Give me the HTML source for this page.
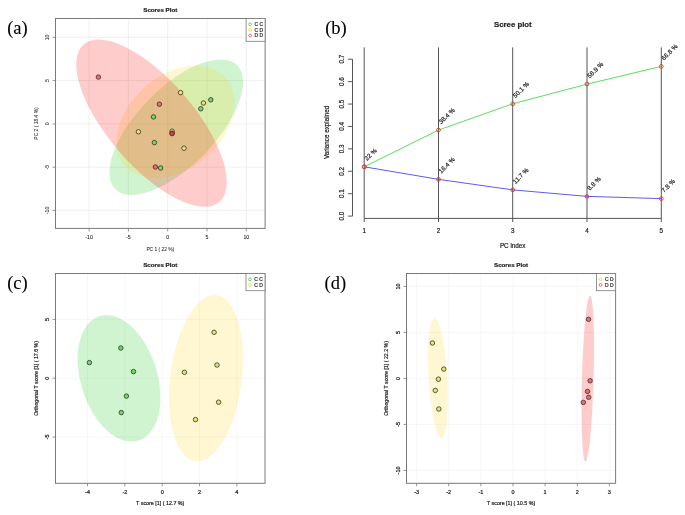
<!DOCTYPE html><html><head><meta charset="utf-8"><style>html,body{margin:0;padding:0;background:#fff;}svg{display:block;will-change:transform;}</style></head><body>
<svg width="685" height="515" viewBox="0 0 685 515">
<rect x="0" y="0" width="685" height="515" fill="#fff"/>
<line x1="89.1" y1="18.5" x2="89.1" y2="228.4" stroke="#e6e6e6" stroke-width="0.6"/>
<line x1="128.4" y1="18.5" x2="128.4" y2="228.4" stroke="#e6e6e6" stroke-width="0.6"/>
<line x1="167.7" y1="18.5" x2="167.7" y2="228.4" stroke="#e6e6e6" stroke-width="0.6"/>
<line x1="207" y1="18.5" x2="207" y2="228.4" stroke="#e6e6e6" stroke-width="0.6"/>
<line x1="246.3" y1="18.5" x2="246.3" y2="228.4" stroke="#e6e6e6" stroke-width="0.6"/>
<line x1="55.5" y1="37.4" x2="265.1" y2="37.4" stroke="#e6e6e6" stroke-width="0.6"/>
<line x1="55.5" y1="80.65" x2="265.1" y2="80.65" stroke="#e6e6e6" stroke-width="0.6"/>
<line x1="55.5" y1="123.9" x2="265.1" y2="123.9" stroke="#e6e6e6" stroke-width="0.6"/>
<line x1="55.5" y1="167.15" x2="265.1" y2="167.15" stroke="#e6e6e6" stroke-width="0.6"/>
<line x1="55.5" y1="210.4" x2="265.1" y2="210.4" stroke="#e6e6e6" stroke-width="0.6"/>
<ellipse cx="176.2" cy="127.2" rx="86.88" ry="38.88" transform="rotate(-45.64 176.2 127.2)" fill="#14c814" fill-opacity="0.2"/>
<ellipse cx="175.5" cy="121.95" rx="66.8" ry="46.5" transform="rotate(-41.17 175.5 121.95)" fill="#ffd21e" fill-opacity="0.2"/>
<ellipse cx="151.5" cy="123.2" rx="104" ry="43" transform="rotate(49.26 151.5 123.2)" fill="#ff0000" fill-opacity="0.2"/>
<circle cx="98.4" cy="77.1" r="2.25" fill="#f06a6a" stroke="#333" stroke-width="0.8"/>
<circle cx="159.4" cy="104.2" r="2.25" fill="#f06a6a" stroke="#333" stroke-width="0.8"/>
<circle cx="155.4" cy="167" r="2.25" fill="#f06a6a" stroke="#333" stroke-width="0.8"/>
<circle cx="180.6" cy="92.6" r="2.25" fill="#f0e070" stroke="#333" stroke-width="0.8"/>
<circle cx="203.4" cy="103" r="2.25" fill="#f0e070" stroke="#333" stroke-width="0.8"/>
<circle cx="138.4" cy="131.8" r="2.25" fill="#f0e070" stroke="#333" stroke-width="0.8"/>
<circle cx="184" cy="148.2" r="2.25" fill="#f0e070" stroke="#333" stroke-width="0.8"/>
<circle cx="210.8" cy="99.8" r="2.25" fill="#70da5e" stroke="#333" stroke-width="0.8"/>
<circle cx="200.8" cy="108.8" r="2.25" fill="#70da5e" stroke="#333" stroke-width="0.8"/>
<circle cx="153.5" cy="116.9" r="2.25" fill="#70da5e" stroke="#333" stroke-width="0.8"/>
<circle cx="154.4" cy="142.6" r="2.25" fill="#70da5e" stroke="#333" stroke-width="0.8"/>
<circle cx="160.6" cy="168" r="2.25" fill="#70da5e" stroke="#333" stroke-width="0.8"/>
<circle cx="172.1" cy="131.2" r="2.25" fill="#f0e070" stroke="#333" stroke-width="0.8"/>
<circle cx="172.1" cy="133.2" r="2.25" fill="#f06a6a" stroke="#333" stroke-width="0.8"/>
<circle cx="172.1" cy="133.6" r="2.25" fill="#e83a2a" stroke="#333" stroke-width="0.8"/>
<rect x="55.5" y="18.5" width="209.6" height="209.9" fill="none" stroke="#7a7a7a" stroke-width="1"/>
<line x1="89.1" y1="228.4" x2="89.1" y2="231.4" stroke="#7a7a7a" stroke-width="0.8"/>
<text x="89.1" y="239.2" font-size="5.2" text-anchor="middle" font-weight="normal" fill="#111" font-family='"Liberation Sans", sans-serif' stroke="#333" stroke-width="0.06">-10</text>
<line x1="128.4" y1="228.4" x2="128.4" y2="231.4" stroke="#7a7a7a" stroke-width="0.8"/>
<text x="128.4" y="239.2" font-size="5.2" text-anchor="middle" font-weight="normal" fill="#111" font-family='"Liberation Sans", sans-serif' stroke="#333" stroke-width="0.06">-5</text>
<line x1="167.7" y1="228.4" x2="167.7" y2="231.4" stroke="#7a7a7a" stroke-width="0.8"/>
<text x="167.7" y="239.2" font-size="5.2" text-anchor="middle" font-weight="normal" fill="#111" font-family='"Liberation Sans", sans-serif' stroke="#333" stroke-width="0.06">0</text>
<line x1="207" y1="228.4" x2="207" y2="231.4" stroke="#7a7a7a" stroke-width="0.8"/>
<text x="207" y="239.2" font-size="5.2" text-anchor="middle" font-weight="normal" fill="#111" font-family='"Liberation Sans", sans-serif' stroke="#333" stroke-width="0.06">5</text>
<line x1="246.3" y1="228.4" x2="246.3" y2="231.4" stroke="#7a7a7a" stroke-width="0.8"/>
<text x="246.3" y="239.2" font-size="5.2" text-anchor="middle" font-weight="normal" fill="#111" font-family='"Liberation Sans", sans-serif' stroke="#333" stroke-width="0.06">10</text>
<line x1="52.5" y1="37.4" x2="55.5" y2="37.4" stroke="#7a7a7a" stroke-width="0.8"/>
<text x="49.2" y="37.4" font-size="5.2" text-anchor="middle" font-weight="normal" fill="#111" font-family='"Liberation Sans", sans-serif' transform="rotate(-90 49.2 37.4)" stroke="#333" stroke-width="0.06">10</text>
<line x1="52.5" y1="80.65" x2="55.5" y2="80.65" stroke="#7a7a7a" stroke-width="0.8"/>
<text x="49.2" y="80.65" font-size="5.2" text-anchor="middle" font-weight="normal" fill="#111" font-family='"Liberation Sans", sans-serif' transform="rotate(-90 49.2 80.65)" stroke="#333" stroke-width="0.06">5</text>
<line x1="52.5" y1="123.9" x2="55.5" y2="123.9" stroke="#7a7a7a" stroke-width="0.8"/>
<text x="49.2" y="123.9" font-size="5.2" text-anchor="middle" font-weight="normal" fill="#111" font-family='"Liberation Sans", sans-serif' transform="rotate(-90 49.2 123.9)" stroke="#333" stroke-width="0.06">0</text>
<line x1="52.5" y1="167.15" x2="55.5" y2="167.15" stroke="#7a7a7a" stroke-width="0.8"/>
<text x="49.2" y="167.15" font-size="5.2" text-anchor="middle" font-weight="normal" fill="#111" font-family='"Liberation Sans", sans-serif' transform="rotate(-90 49.2 167.15)" stroke="#333" stroke-width="0.06">-5</text>
<line x1="52.5" y1="210.4" x2="55.5" y2="210.4" stroke="#7a7a7a" stroke-width="0.8"/>
<text x="49.2" y="210.4" font-size="5.2" text-anchor="middle" font-weight="normal" fill="#111" font-family='"Liberation Sans", sans-serif' transform="rotate(-90 49.2 210.4)" stroke="#333" stroke-width="0.06">-10</text>
<text x="160.3" y="12" font-size="6.2" text-anchor="middle" font-weight="bold" fill="#222" font-family='"Liberation Sans", sans-serif' stroke="#222" stroke-width="0.2">Scores Plot</text>
<text x="160.3" y="251" font-size="4.86" text-anchor="middle" font-weight="normal" fill="#222" font-family='"Liberation Sans", sans-serif' stroke="#333" stroke-width="0.05">PC 1 ( 22 %)</text>
<text x="38.2" y="123.45" font-size="4.95" text-anchor="middle" font-weight="normal" fill="#222" font-family='"Liberation Sans", sans-serif' transform="rotate(-90 38.2 123.45)" stroke="#333" stroke-width="0.05">PC 2 ( 18.4 %)</text>
<rect x="246.1" y="18.5" width="19" height="22.8" fill="#fff" stroke="#7a7a7a" stroke-width="0.8"/>
<circle cx="250.1" cy="24.3" r="1.4" fill="none" stroke="#44cc44" stroke-width="0.8"/>
<text x="254.4" y="26.1" font-size="5" text-anchor="start" font-weight="normal" fill="#333" font-family='"Liberation Sans", sans-serif' stroke="#222" stroke-width="0.2">C C</text>
<circle cx="250.1" cy="29.9" r="1.4" fill="none" stroke="#eedd22" stroke-width="0.8"/>
<text x="254.4" y="31.7" font-size="5" text-anchor="start" font-weight="normal" fill="#333" font-family='"Liberation Sans", sans-serif' stroke="#222" stroke-width="0.2">C D</text>
<circle cx="250.1" cy="35.5" r="1.4" fill="none" stroke="#ee4455" stroke-width="0.8"/>
<text x="254.4" y="37.3" font-size="5" text-anchor="start" font-weight="normal" fill="#333" font-family='"Liberation Sans", sans-serif' stroke="#222" stroke-width="0.2">D D</text>
<line x1="87.5" y1="273.5" x2="87.5" y2="483.3" stroke="#e6e6e6" stroke-width="0.6" stroke-dasharray="1 1"/>
<line x1="124.85" y1="273.5" x2="124.85" y2="483.3" stroke="#e6e6e6" stroke-width="0.6" stroke-dasharray="1 1"/>
<line x1="162.2" y1="273.5" x2="162.2" y2="483.3" stroke="#e6e6e6" stroke-width="0.6" stroke-dasharray="1 1"/>
<line x1="199.55" y1="273.5" x2="199.55" y2="483.3" stroke="#e6e6e6" stroke-width="0.6" stroke-dasharray="1 1"/>
<line x1="236.9" y1="273.5" x2="236.9" y2="483.3" stroke="#e6e6e6" stroke-width="0.6" stroke-dasharray="1 1"/>
<line x1="55.5" y1="319.4" x2="265" y2="319.4" stroke="#e6e6e6" stroke-width="0.6" stroke-dasharray="1 1"/>
<line x1="55.5" y1="378.2" x2="265" y2="378.2" stroke="#e6e6e6" stroke-width="0.6" stroke-dasharray="1 1"/>
<line x1="55.5" y1="437" x2="265" y2="437" stroke="#e6e6e6" stroke-width="0.6" stroke-dasharray="1 1"/>
<ellipse cx="119.05" cy="378.3" rx="65.22" ry="38.36" transform="rotate(72.67 119.05 378.3)" fill="#14c814" fill-opacity="0.2"/>
<ellipse cx="206" cy="378.2" rx="83.73" ry="35.78" transform="rotate(-82.86 206 378.2)" fill="#ffd21e" fill-opacity="0.2"/>
<circle cx="89.4" cy="362.6" r="2.25" fill="#70da5e" stroke="#333" stroke-width="0.8"/>
<circle cx="120.8" cy="348" r="2.25" fill="#70da5e" stroke="#333" stroke-width="0.8"/>
<circle cx="133.5" cy="371.6" r="2.25" fill="#70da5e" stroke="#333" stroke-width="0.8"/>
<circle cx="126.4" cy="396.1" r="2.25" fill="#70da5e" stroke="#333" stroke-width="0.8"/>
<circle cx="121.3" cy="412.6" r="2.25" fill="#70da5e" stroke="#333" stroke-width="0.8"/>
<circle cx="214.1" cy="332.3" r="2.25" fill="#f0e070" stroke="#333" stroke-width="0.8"/>
<circle cx="184.4" cy="372.3" r="2.25" fill="#f0e070" stroke="#333" stroke-width="0.8"/>
<circle cx="217" cy="365" r="2.25" fill="#f0e070" stroke="#333" stroke-width="0.8"/>
<circle cx="218.6" cy="402.2" r="2.25" fill="#f0e070" stroke="#333" stroke-width="0.8"/>
<circle cx="195.5" cy="419.6" r="2.25" fill="#f0e070" stroke="#333" stroke-width="0.8"/>
<rect x="55.5" y="273.5" width="209.5" height="209.8" fill="none" stroke="#7a7a7a" stroke-width="1"/>
<line x1="87.5" y1="483.3" x2="87.5" y2="486.3" stroke="#7a7a7a" stroke-width="0.8"/>
<text x="87.5" y="494.1" font-size="5.5" text-anchor="middle" font-weight="normal" fill="#111" font-family='"Liberation Sans", sans-serif' stroke="#222" stroke-width="0.22">-4</text>
<line x1="124.85" y1="483.3" x2="124.85" y2="486.3" stroke="#7a7a7a" stroke-width="0.8"/>
<text x="124.85" y="494.1" font-size="5.5" text-anchor="middle" font-weight="normal" fill="#111" font-family='"Liberation Sans", sans-serif' stroke="#222" stroke-width="0.22">-2</text>
<line x1="162.2" y1="483.3" x2="162.2" y2="486.3" stroke="#7a7a7a" stroke-width="0.8"/>
<text x="162.2" y="494.1" font-size="5.5" text-anchor="middle" font-weight="normal" fill="#111" font-family='"Liberation Sans", sans-serif' stroke="#222" stroke-width="0.22">0</text>
<line x1="199.55" y1="483.3" x2="199.55" y2="486.3" stroke="#7a7a7a" stroke-width="0.8"/>
<text x="199.55" y="494.1" font-size="5.5" text-anchor="middle" font-weight="normal" fill="#111" font-family='"Liberation Sans", sans-serif' stroke="#222" stroke-width="0.22">2</text>
<line x1="236.9" y1="483.3" x2="236.9" y2="486.3" stroke="#7a7a7a" stroke-width="0.8"/>
<text x="236.9" y="494.1" font-size="5.5" text-anchor="middle" font-weight="normal" fill="#111" font-family='"Liberation Sans", sans-serif' stroke="#222" stroke-width="0.22">4</text>
<line x1="52.5" y1="319.4" x2="55.5" y2="319.4" stroke="#7a7a7a" stroke-width="0.8"/>
<text x="49.2" y="319.4" font-size="5.5" text-anchor="middle" font-weight="normal" fill="#111" font-family='"Liberation Sans", sans-serif' transform="rotate(-90 49.2 319.4)" stroke="#222" stroke-width="0.22">5</text>
<line x1="52.5" y1="378.2" x2="55.5" y2="378.2" stroke="#7a7a7a" stroke-width="0.8"/>
<text x="49.2" y="378.2" font-size="5.5" text-anchor="middle" font-weight="normal" fill="#111" font-family='"Liberation Sans", sans-serif' transform="rotate(-90 49.2 378.2)" stroke="#222" stroke-width="0.22">0</text>
<line x1="52.5" y1="437" x2="55.5" y2="437" stroke="#7a7a7a" stroke-width="0.8"/>
<text x="49.2" y="437" font-size="5.5" text-anchor="middle" font-weight="normal" fill="#111" font-family='"Liberation Sans", sans-serif' transform="rotate(-90 49.2 437)" stroke="#222" stroke-width="0.22">-5</text>
<text x="160.25" y="267" font-size="6.2" text-anchor="middle" font-weight="bold" fill="#222" font-family='"Liberation Sans", sans-serif' stroke="#222" stroke-width="0.2">Scores Plot</text>
<text x="160.25" y="505.1" font-size="5.35" text-anchor="middle" font-weight="normal" fill="#222" font-family='"Liberation Sans", sans-serif' stroke="#222" stroke-width="0.2">T score [1] ( 12.7 %)</text>
<text x="38.3" y="378.4" font-size="5.25" text-anchor="middle" font-weight="normal" fill="#222" font-family='"Liberation Sans", sans-serif' transform="rotate(-90 38.3 378.4)" stroke="#222" stroke-width="0.2">Orthogonal T score [1] ( 17.6 %)</text>
<rect x="246" y="273.5" width="19" height="17.2" fill="#fff" stroke="#7a7a7a" stroke-width="0.8"/>
<circle cx="250" cy="279.3" r="1.4" fill="none" stroke="#44cc44" stroke-width="0.8"/>
<text x="254.3" y="281.1" font-size="5" text-anchor="start" font-weight="normal" fill="#333" font-family='"Liberation Sans", sans-serif' stroke="#222" stroke-width="0.2">C C</text>
<circle cx="250" cy="284.9" r="1.4" fill="none" stroke="#eedd22" stroke-width="0.8"/>
<text x="254.3" y="286.7" font-size="5" text-anchor="start" font-weight="normal" fill="#333" font-family='"Liberation Sans", sans-serif' stroke="#222" stroke-width="0.2">C D</text>
<line x1="416.61" y1="273.5" x2="416.61" y2="483.3" stroke="#e6e6e6" stroke-width="0.6" stroke-dasharray="1 1"/>
<line x1="448.74" y1="273.5" x2="448.74" y2="483.3" stroke="#e6e6e6" stroke-width="0.6" stroke-dasharray="1 1"/>
<line x1="480.87" y1="273.5" x2="480.87" y2="483.3" stroke="#e6e6e6" stroke-width="0.6" stroke-dasharray="1 1"/>
<line x1="513" y1="273.5" x2="513" y2="483.3" stroke="#e6e6e6" stroke-width="0.6" stroke-dasharray="1 1"/>
<line x1="545.13" y1="273.5" x2="545.13" y2="483.3" stroke="#e6e6e6" stroke-width="0.6" stroke-dasharray="1 1"/>
<line x1="577.26" y1="273.5" x2="577.26" y2="483.3" stroke="#e6e6e6" stroke-width="0.6" stroke-dasharray="1 1"/>
<line x1="609.39" y1="273.5" x2="609.39" y2="483.3" stroke="#e6e6e6" stroke-width="0.6" stroke-dasharray="1 1"/>
<line x1="406.5" y1="286.4" x2="615.6" y2="286.4" stroke="#e6e6e6" stroke-width="0.6" stroke-dasharray="1 1"/>
<line x1="406.5" y1="332.4" x2="615.6" y2="332.4" stroke="#e6e6e6" stroke-width="0.6" stroke-dasharray="1 1"/>
<line x1="406.5" y1="378.4" x2="615.6" y2="378.4" stroke="#e6e6e6" stroke-width="0.6" stroke-dasharray="1 1"/>
<line x1="406.5" y1="424.4" x2="615.6" y2="424.4" stroke="#e6e6e6" stroke-width="0.6" stroke-dasharray="1 1"/>
<line x1="406.5" y1="470.4" x2="615.6" y2="470.4" stroke="#e6e6e6" stroke-width="0.6" stroke-dasharray="1 1"/>
<ellipse cx="437.9" cy="378.2" rx="59.8" ry="9.3" transform="rotate(86.71 437.9 378.2)" fill="#ffd21e" fill-opacity="0.2"/>
<ellipse cx="587.75" cy="378.5" rx="83.13" ry="5.81" transform="rotate(-88.41 587.75 378.5)" fill="#ff0000" fill-opacity="0.2"/>
<circle cx="432.4" cy="343" r="2.25" fill="#f0e070" stroke="#333" stroke-width="0.8"/>
<circle cx="443.8" cy="369.1" r="2.25" fill="#f0e070" stroke="#333" stroke-width="0.8"/>
<circle cx="438.4" cy="379.2" r="2.25" fill="#f0e070" stroke="#333" stroke-width="0.8"/>
<circle cx="435.3" cy="390.4" r="2.25" fill="#f0e070" stroke="#333" stroke-width="0.8"/>
<circle cx="438.8" cy="409" r="2.25" fill="#f0e070" stroke="#333" stroke-width="0.8"/>
<circle cx="588.5" cy="319.3" r="2.25" fill="#f06a6a" stroke="#333" stroke-width="0.8"/>
<circle cx="590.1" cy="380.8" r="2.25" fill="#f06a6a" stroke="#333" stroke-width="0.8"/>
<circle cx="587.5" cy="391.4" r="2.25" fill="#f06a6a" stroke="#333" stroke-width="0.8"/>
<circle cx="588.7" cy="397.3" r="2.25" fill="#f06a6a" stroke="#333" stroke-width="0.8"/>
<circle cx="583.3" cy="402.4" r="2.25" fill="#f06a6a" stroke="#333" stroke-width="0.8"/>
<rect x="406.5" y="273.5" width="209.1" height="209.8" fill="none" stroke="#7a7a7a" stroke-width="1"/>
<line x1="416.61" y1="483.3" x2="416.61" y2="486.3" stroke="#7a7a7a" stroke-width="0.8"/>
<text x="416.61" y="494.1" font-size="5.5" text-anchor="middle" font-weight="normal" fill="#111" font-family='"Liberation Sans", sans-serif' stroke="#222" stroke-width="0.22">-3</text>
<line x1="448.74" y1="483.3" x2="448.74" y2="486.3" stroke="#7a7a7a" stroke-width="0.8"/>
<text x="448.74" y="494.1" font-size="5.5" text-anchor="middle" font-weight="normal" fill="#111" font-family='"Liberation Sans", sans-serif' stroke="#222" stroke-width="0.22">-2</text>
<line x1="480.87" y1="483.3" x2="480.87" y2="486.3" stroke="#7a7a7a" stroke-width="0.8"/>
<text x="480.87" y="494.1" font-size="5.5" text-anchor="middle" font-weight="normal" fill="#111" font-family='"Liberation Sans", sans-serif' stroke="#222" stroke-width="0.22">-1</text>
<line x1="513" y1="483.3" x2="513" y2="486.3" stroke="#7a7a7a" stroke-width="0.8"/>
<text x="513" y="494.1" font-size="5.5" text-anchor="middle" font-weight="normal" fill="#111" font-family='"Liberation Sans", sans-serif' stroke="#222" stroke-width="0.22">0</text>
<line x1="545.13" y1="483.3" x2="545.13" y2="486.3" stroke="#7a7a7a" stroke-width="0.8"/>
<text x="545.13" y="494.1" font-size="5.5" text-anchor="middle" font-weight="normal" fill="#111" font-family='"Liberation Sans", sans-serif' stroke="#222" stroke-width="0.22">1</text>
<line x1="577.26" y1="483.3" x2="577.26" y2="486.3" stroke="#7a7a7a" stroke-width="0.8"/>
<text x="577.26" y="494.1" font-size="5.5" text-anchor="middle" font-weight="normal" fill="#111" font-family='"Liberation Sans", sans-serif' stroke="#222" stroke-width="0.22">2</text>
<line x1="609.39" y1="483.3" x2="609.39" y2="486.3" stroke="#7a7a7a" stroke-width="0.8"/>
<text x="609.39" y="494.1" font-size="5.5" text-anchor="middle" font-weight="normal" fill="#111" font-family='"Liberation Sans", sans-serif' stroke="#222" stroke-width="0.22">3</text>
<line x1="403.5" y1="286.4" x2="406.5" y2="286.4" stroke="#7a7a7a" stroke-width="0.8"/>
<text x="400.2" y="286.4" font-size="5.5" text-anchor="middle" font-weight="normal" fill="#111" font-family='"Liberation Sans", sans-serif' transform="rotate(-90 400.2 286.4)" stroke="#222" stroke-width="0.22">10</text>
<line x1="403.5" y1="332.4" x2="406.5" y2="332.4" stroke="#7a7a7a" stroke-width="0.8"/>
<text x="400.2" y="332.4" font-size="5.5" text-anchor="middle" font-weight="normal" fill="#111" font-family='"Liberation Sans", sans-serif' transform="rotate(-90 400.2 332.4)" stroke="#222" stroke-width="0.22">5</text>
<line x1="403.5" y1="378.4" x2="406.5" y2="378.4" stroke="#7a7a7a" stroke-width="0.8"/>
<text x="400.2" y="378.4" font-size="5.5" text-anchor="middle" font-weight="normal" fill="#111" font-family='"Liberation Sans", sans-serif' transform="rotate(-90 400.2 378.4)" stroke="#222" stroke-width="0.22">0</text>
<line x1="403.5" y1="424.4" x2="406.5" y2="424.4" stroke="#7a7a7a" stroke-width="0.8"/>
<text x="400.2" y="424.4" font-size="5.5" text-anchor="middle" font-weight="normal" fill="#111" font-family='"Liberation Sans", sans-serif' transform="rotate(-90 400.2 424.4)" stroke="#222" stroke-width="0.22">-5</text>
<line x1="403.5" y1="470.4" x2="406.5" y2="470.4" stroke="#7a7a7a" stroke-width="0.8"/>
<text x="400.2" y="470.4" font-size="5.5" text-anchor="middle" font-weight="normal" fill="#111" font-family='"Liberation Sans", sans-serif' transform="rotate(-90 400.2 470.4)" stroke="#222" stroke-width="0.22">-10</text>
<text x="511.05" y="267" font-size="6.2" text-anchor="middle" font-weight="bold" fill="#222" font-family='"Liberation Sans", sans-serif' stroke="#222" stroke-width="0.2">Scores Plot</text>
<text x="511.05" y="505.1" font-size="5.35" text-anchor="middle" font-weight="normal" fill="#222" font-family='"Liberation Sans", sans-serif' stroke="#222" stroke-width="0.2">T score [1] ( 10.5 %)</text>
<text x="388.3" y="378.4" font-size="5.25" text-anchor="middle" font-weight="normal" fill="#222" font-family='"Liberation Sans", sans-serif' transform="rotate(-90 388.3 378.4)" stroke="#222" stroke-width="0.2">Orthogonal T score [1] ( 22.2 %)</text>
<rect x="596.6" y="273.5" width="19" height="17.2" fill="#fff" stroke="#7a7a7a" stroke-width="0.8"/>
<circle cx="600.6" cy="279.3" r="1.4" fill="none" stroke="#eedd22" stroke-width="0.8"/>
<text x="604.9" y="281.1" font-size="5" text-anchor="start" font-weight="normal" fill="#333" font-family='"Liberation Sans", sans-serif' stroke="#222" stroke-width="0.2">C D</text>
<circle cx="600.6" cy="284.9" r="1.4" fill="none" stroke="#ee4455" stroke-width="0.8"/>
<text x="604.9" y="286.7" font-size="5" text-anchor="start" font-weight="normal" fill="#333" font-family='"Liberation Sans", sans-serif' stroke="#222" stroke-width="0.2">D D</text>
<line x1="364.2" y1="47.4" x2="364.2" y2="222" stroke="#555" stroke-width="1"/>
<line x1="438.5" y1="47.4" x2="438.5" y2="222" stroke="#555" stroke-width="1"/>
<line x1="512.7" y1="47.4" x2="512.7" y2="222" stroke="#555" stroke-width="1"/>
<line x1="587" y1="47.4" x2="587" y2="222" stroke="#555" stroke-width="1"/>
<line x1="661.3" y1="47.4" x2="661.3" y2="222" stroke="#555" stroke-width="1"/>
<line x1="364.2" y1="218.4" x2="661.3" y2="218.4" stroke="#555" stroke-width="1"/>
<line x1="352.5" y1="59.23" x2="352.5" y2="216.1" stroke="#555" stroke-width="1"/>
<line x1="348.1" y1="216.1" x2="352.5" y2="216.1" stroke="#555" stroke-width="1"/>
<text x="344" y="216.1" font-size="6.3" text-anchor="middle" font-weight="normal" fill="#222" font-family='"Liberation Sans", sans-serif' transform="rotate(-90 344 216.1)" stroke="#222" stroke-width="0.2">0.0</text>
<line x1="348.1" y1="193.69" x2="352.5" y2="193.69" stroke="#555" stroke-width="1"/>
<text x="344" y="193.69" font-size="6.3" text-anchor="middle" font-weight="normal" fill="#222" font-family='"Liberation Sans", sans-serif' transform="rotate(-90 344 193.69)" stroke="#222" stroke-width="0.2">0.1</text>
<line x1="348.1" y1="171.28" x2="352.5" y2="171.28" stroke="#555" stroke-width="1"/>
<text x="344" y="171.28" font-size="6.3" text-anchor="middle" font-weight="normal" fill="#222" font-family='"Liberation Sans", sans-serif' transform="rotate(-90 344 171.28)" stroke="#222" stroke-width="0.2">0.2</text>
<line x1="348.1" y1="148.87" x2="352.5" y2="148.87" stroke="#555" stroke-width="1"/>
<text x="344" y="148.87" font-size="6.3" text-anchor="middle" font-weight="normal" fill="#222" font-family='"Liberation Sans", sans-serif' transform="rotate(-90 344 148.87)" stroke="#222" stroke-width="0.2">0.3</text>
<line x1="348.1" y1="126.46" x2="352.5" y2="126.46" stroke="#555" stroke-width="1"/>
<text x="344" y="126.46" font-size="6.3" text-anchor="middle" font-weight="normal" fill="#222" font-family='"Liberation Sans", sans-serif' transform="rotate(-90 344 126.46)" stroke="#222" stroke-width="0.2">0.4</text>
<line x1="348.1" y1="104.05" x2="352.5" y2="104.05" stroke="#555" stroke-width="1"/>
<text x="344" y="104.05" font-size="6.3" text-anchor="middle" font-weight="normal" fill="#222" font-family='"Liberation Sans", sans-serif' transform="rotate(-90 344 104.05)" stroke="#222" stroke-width="0.2">0.5</text>
<line x1="348.1" y1="81.64" x2="352.5" y2="81.64" stroke="#555" stroke-width="1"/>
<text x="344" y="81.64" font-size="6.3" text-anchor="middle" font-weight="normal" fill="#222" font-family='"Liberation Sans", sans-serif' transform="rotate(-90 344 81.64)" stroke="#222" stroke-width="0.2">0.6</text>
<line x1="348.1" y1="59.23" x2="352.5" y2="59.23" stroke="#555" stroke-width="1"/>
<text x="344" y="59.23" font-size="6.3" text-anchor="middle" font-weight="normal" fill="#222" font-family='"Liberation Sans", sans-serif' transform="rotate(-90 344 59.23)" stroke="#222" stroke-width="0.2">0.7</text>
<text x="364.2" y="232.6" font-size="6.3" text-anchor="middle" font-weight="normal" fill="#222" font-family='"Liberation Sans", sans-serif' stroke="#222" stroke-width="0.2">1</text>
<text x="438.5" y="232.6" font-size="6.3" text-anchor="middle" font-weight="normal" fill="#222" font-family='"Liberation Sans", sans-serif' stroke="#222" stroke-width="0.2">2</text>
<text x="512.7" y="232.6" font-size="6.3" text-anchor="middle" font-weight="normal" fill="#222" font-family='"Liberation Sans", sans-serif' stroke="#222" stroke-width="0.2">3</text>
<text x="587" y="232.6" font-size="6.3" text-anchor="middle" font-weight="normal" fill="#222" font-family='"Liberation Sans", sans-serif' stroke="#222" stroke-width="0.2">4</text>
<text x="661.3" y="232.6" font-size="6.3" text-anchor="middle" font-weight="normal" fill="#222" font-family='"Liberation Sans", sans-serif' stroke="#222" stroke-width="0.2">5</text>
<text x="512.7" y="248" font-size="6.3" text-anchor="middle" font-weight="normal" fill="#222" font-family='"Liberation Sans", sans-serif' stroke="#222" stroke-width="0.2">PC index</text>
<text x="328.7" y="132.4" font-size="6.3" text-anchor="middle" font-weight="normal" fill="#222" font-family='"Liberation Sans", sans-serif' transform="rotate(-90 328.7 132.4)" stroke="#222" stroke-width="0.2">Variance explained</text>
<text x="512.85" y="26.9" font-size="7.8" text-anchor="middle" font-weight="bold" fill="#222" font-family='"Liberation Sans", sans-serif' stroke="#222" stroke-width="0.2">Scree plot</text>
<polyline points="364.2,166.8 438.5,130.05 512.7,103.83 587,84.11 661.3,66.4" fill="none" stroke="#44dd44" stroke-width="0.9"/>
<polyline points="364.2,166.8 438.5,179.35 512.7,189.88 587,196.38 661.3,198.62" fill="none" stroke="#4a4ae8" stroke-width="0.9"/>
<circle cx="364.2" cy="166.8" r="1.9" fill="none" stroke="#e33" stroke-width="0.9"/>
<circle cx="364.2" cy="166.8" r="1.9" fill="none" stroke="#e33" stroke-width="0.9"/>
<circle cx="438.5" cy="130.05" r="1.9" fill="none" stroke="#e33" stroke-width="0.9"/>
<circle cx="438.5" cy="179.35" r="1.9" fill="none" stroke="#e33" stroke-width="0.9"/>
<circle cx="512.7" cy="103.83" r="1.9" fill="none" stroke="#e33" stroke-width="0.9"/>
<circle cx="512.7" cy="189.88" r="1.9" fill="none" stroke="#e33" stroke-width="0.9"/>
<circle cx="587" cy="84.11" r="1.9" fill="none" stroke="#e33" stroke-width="0.9"/>
<circle cx="587" cy="196.38" r="1.9" fill="none" stroke="#e33" stroke-width="0.9"/>
<circle cx="661.3" cy="66.4" r="1.9" fill="none" stroke="#e33" stroke-width="0.9"/>
<circle cx="661.3" cy="198.62" r="1.9" fill="none" stroke="#e33" stroke-width="0.9"/>
<text x="367" y="161.1" font-size="6.3" text-anchor="start" font-weight="normal" fill="#222" font-family='"Liberation Sans", sans-serif' transform="rotate(-45 367 161.1)" stroke="#222" stroke-width="0.2">22 %</text>
<text x="441.3" y="124.35" font-size="6.3" text-anchor="start" font-weight="normal" fill="#222" font-family='"Liberation Sans", sans-serif' transform="rotate(-45 441.3 124.35)" stroke="#222" stroke-width="0.2">38.4 %</text>
<text x="441.3" y="173.65" font-size="6.3" text-anchor="start" font-weight="normal" fill="#222" font-family='"Liberation Sans", sans-serif' transform="rotate(-45 441.3 173.65)" stroke="#222" stroke-width="0.2">16.4 %</text>
<text x="515.5" y="98.13" font-size="6.3" text-anchor="start" font-weight="normal" fill="#222" font-family='"Liberation Sans", sans-serif' transform="rotate(-45 515.5 98.13)" stroke="#222" stroke-width="0.2">50.1 %</text>
<text x="515.5" y="184.18" font-size="6.3" text-anchor="start" font-weight="normal" fill="#222" font-family='"Liberation Sans", sans-serif' transform="rotate(-45 515.5 184.18)" stroke="#222" stroke-width="0.2">11.7 %</text>
<text x="589.8" y="78.41" font-size="6.3" text-anchor="start" font-weight="normal" fill="#222" font-family='"Liberation Sans", sans-serif' transform="rotate(-45 589.8 78.41)" stroke="#222" stroke-width="0.2">58.9 %</text>
<text x="589.8" y="190.68" font-size="6.3" text-anchor="start" font-weight="normal" fill="#222" font-family='"Liberation Sans", sans-serif' transform="rotate(-45 589.8 190.68)" stroke="#222" stroke-width="0.2">8.8 %</text>
<text x="664.1" y="60.7" font-size="6.3" text-anchor="start" font-weight="normal" fill="#222" font-family='"Liberation Sans", sans-serif' transform="rotate(-45 664.1 60.7)" stroke="#222" stroke-width="0.2">66.8 %</text>
<text x="664.1" y="192.92" font-size="6.3" text-anchor="start" font-weight="normal" fill="#222" font-family='"Liberation Sans", sans-serif' transform="rotate(-45 664.1 192.92)" stroke="#222" stroke-width="0.2">7.8 %</text>
<text x="7.2" y="33.7" font-size="18.5" text-anchor="start" font-weight="normal" fill="#000" font-family='"Liberation Serif", serif' stroke="#000" stroke-width="0.1">(a)</text>
<text x="325.2" y="33.7" font-size="18.5" text-anchor="start" font-weight="normal" fill="#000" font-family='"Liberation Serif", serif' stroke="#000" stroke-width="0.1">(b)</text>
<text x="7.2" y="288.7" font-size="18.5" text-anchor="start" font-weight="normal" fill="#000" font-family='"Liberation Serif", serif' stroke="#000" stroke-width="0.1">(c)</text>
<text x="324.6" y="288.7" font-size="18.5" text-anchor="start" font-weight="normal" fill="#000" font-family='"Liberation Serif", serif' stroke="#000" stroke-width="0.1">(d)</text>
</svg></body></html>
